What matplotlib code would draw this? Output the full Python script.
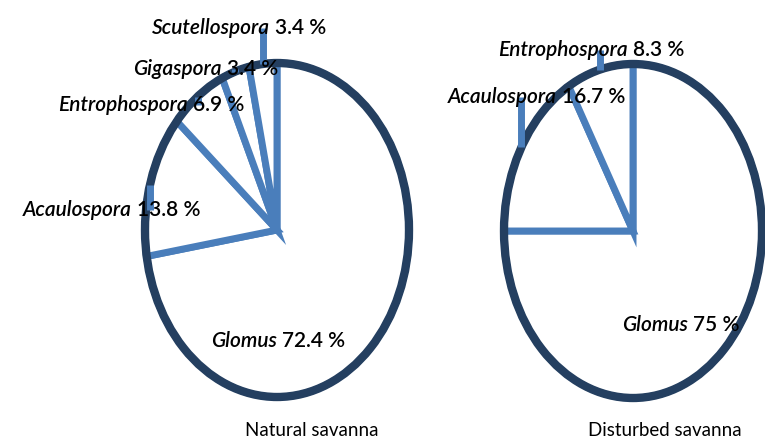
import numpy as np
import matplotlib
matplotlib.use('Agg')
from matplotlib import pyplot as plt
from matplotlib.patches import Ellipse

plt.rcParams['font.family'] = ['Lato', 'DejaVu Sans']

# data
genera_nat = ['Glomus', 'Acaulospora', 'Entrophospora', 'Gigaspora', 'Scutellospora']
pct_nat = [72.4, 13.8, 6.9, 3.4, 3.4]
genera_dis = ['Glomus', 'Acaulospora', 'Entrophospora']
pct_dis = [75, 16.7, 8.3]
titles = ['Natural savanna', 'Disturbed savanna']

W, H = 765, 441
BLUE = '#4a7ebb'
NAVY = '#243f60'
FS = 15

fig = plt.figure(figsize=(W / 100, H / 100), dpi=100)

# overlay axes in pixel coords for labels and leaders
ov = fig.add_axes([0, 0, 1, 1])
ov.set_xlim(0, W)
ov.set_ylim(H, 0)
ov.axis('off')
ov.set_zorder(5)


def label(x, y, name, v):
    ov.text(x, y, name, style='italic', fontsize=FS, fontweight='semibold',
            ha='right', va='center', zorder=3)
    ov.text(x + 5, y, '%g %%' % v, fontsize=FS, fontweight='semibold',
            ha='left', va='center', zorder=3)


def draw_pie(cx, cy, rx, ry, vals, names, label_pos, glomus_pos, title, title_x):
    ax = fig.add_axes([(cx - rx) / W, (H - cy - ry) / H, 2 * rx / W, 2 * ry / H])
    wedges, _ = ax.pie(vals, startangle=90, counterclock=False, radius=1,
                       colors=['white'] * len(vals),
                       wedgeprops=dict(edgecolor=BLUE, linewidth=5, joinstyle='miter'))
    # dark outer rim drawn over the wedge arcs
    ax.add_patch(Ellipse((0, 0), 2, 2, fill=False, edgecolor=NAVY, linewidth=6,
                         zorder=5, clip_on=False))
    ax.set_aspect('auto')
    ax.set_xlim(-1, 1)
    ax.set_ylim(-1, 1)
    ax.axis('off')

    # small wedges: short leader + label
    for w, name, v, (tx, ty) in zip(wedges[1:], names[1:], vals[1:], label_pos):
        mid = np.deg2rad((w.theta1 + w.theta2) / 2)
        px = cx + rx * np.cos(mid)
        py = cy - ry * np.sin(mid)
        ov.plot([px, px], [py, ty], color=BLUE, lw=5, solid_capstyle='butt', zorder=1)
        label(tx, ty, name, v)

    label(glomus_pos[0], glomus_pos[1], names[0], vals[0])
    ov.text(title_x, 430, title, fontsize=13.5, ha='center', va='center')


draw_pie(277, 230, 132, 167, pct_nat, genera_nat,
         [(132, 210), (188, 105), (222, 69), (270, 28)],
         (277, 341), titles[0], 312)
draw_pie(633, 231, 129, 167, pct_dis, genera_dis,
         [(557, 97), (628, 50)],
         (688, 325), titles[1], 665)

fig.savefig('out.png', dpi=100)
